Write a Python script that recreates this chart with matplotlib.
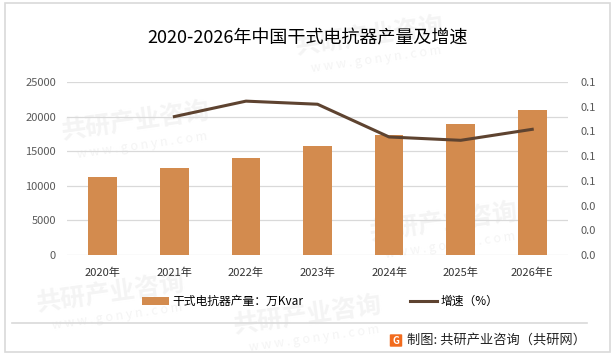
import matplotlib.pyplot as plt
from matplotlib.lines import Line2D
from matplotlib.patches import Rectangle, FancyBboxPatch

plt.rcParams['font.family'] = ['Noto Sans CJK SC', 'DejaVu Sans']

# 数据
years = ['2020年', '2021年', '2022年', '2023年', '2024年', '2025年', '2026年E']
output = [11250, 12580, 14020, 15750, 17350, 18930, 20950]
growth_years = [1, 2, 3, 4, 5, 6]
growth = [0.112, 0.1245, 0.122, 0.0955, 0.0928, 0.1017]

bar_color = '#D38B4E'
line_color = '#5E4330'
tick_color = '#595959'
grid_color = '#D9D9D9'

fig = plt.figure(figsize=(6.16, 3.58), dpi=100)
ax = fig.add_axes([0.1088, 0.2877, 0.8133, 0.4833])

# 水印（很淡，放在柱子下面）
for (x, y) in [(0.22, 0.66), (0.6, 0.9), (0.72, 0.38), (0.18, 0.18), (0.5, 0.12)]:
    ax.text(x, y, '共研产业咨询', fontsize=18, color='#F4F4F4', rotation=8,
            ha='center', va='center', fontweight='bold', zorder=0.5,
            transform=fig.transFigure, clip_on=False)
    ax.text(x + 0.01, y - 0.065, 'w w w . g o n y n . c o m', fontsize=9,
            color='#F4F4F4', rotation=8, ha='center', va='center', zorder=0.5,
            transform=fig.transFigure, clip_on=False)

xs = range(len(years))
bars = ax.bar(xs, output, width=0.4, color=bar_color, zorder=3)
ax.set_xlim(-0.5, 6.5)
ax.set_ylim(0, 25000)
ax.set_yticks(range(0, 25001, 5000))
ax.grid(axis='y', color=grid_color, linewidth=0.9, zorder=1)
ax.set_axisbelow(False)
ax.set_xticks(list(xs))
ax.set_xticklabels(years)
for s in ax.spines.values():
    s.set_visible(False)
ax.tick_params(axis='both', length=0, colors=tick_color, labelsize=8)
ax.tick_params(axis='x', pad=9, colors='#333333')
ax.tick_params(axis='y', pad=8)
ax.patch.set_alpha(0)

ax2 = ax.twinx()
line, = ax2.plot(growth_years, growth, color=line_color, linewidth=2.2,
                 zorder=4)
ax2.set_ylim(0, 0.14)
ax2.set_yticks([i * 0.02 for i in range(8)])
ax2.set_yticklabels([f'{i * 0.02:.1f}' for i in range(8)])
for s in ax2.spines.values():
    s.set_visible(False)
ax2.tick_params(axis='y', length=0, colors=tick_color, labelsize=8, pad=9)

fig.text(0.5, 0.893, '2020-2026年中国干式电抗器产量及增速', ha='center',
         va='center', fontsize=13, color='#000000')

fig.legend([bars, line], ['干式电抗器产量：万Kvar', '增速（%）'],
           loc='center', bbox_to_anchor=(0.52, 0.158), ncol=2, frameon=False,
           fontsize=8.5, columnspacing=9, handlelength=2.3, handletextpad=0.3)

# 边框与底部
fig.add_artist(Rectangle((5 / 616, 1 - 352 / 358), 605 / 616, 349 / 358,
                         transform=fig.transFigure, fill=False,
                         edgecolor='#D9D9D9', linewidth=1.2))
fig.add_artist(Line2D([12 / 616, 587 / 616], [1 - 323 / 358, 1 - 323 / 358],
                      transform=fig.transFigure, color='#D9D9D9', linewidth=1.2))
fig.add_artist(FancyBboxPatch((391 / 616, 1 - 346 / 358), 10 / 616, 11 / 358,
                              boxstyle='round,pad=0.002', transform=fig.transFigure,
                              facecolor='#F26B1D', edgecolor='none'))
fig.text(396 / 616, 1 - 340.5 / 358, 'G', color='white', fontsize=7,
         fontweight='bold', ha='center', va='center')
fig.text(407 / 616, 1 - 340 / 358, '制图: 共研产业咨询（共研网）', fontsize=9.5,
         color='#222222', ha='left', va='center')

fig.savefig('out.png', dpi=100)
